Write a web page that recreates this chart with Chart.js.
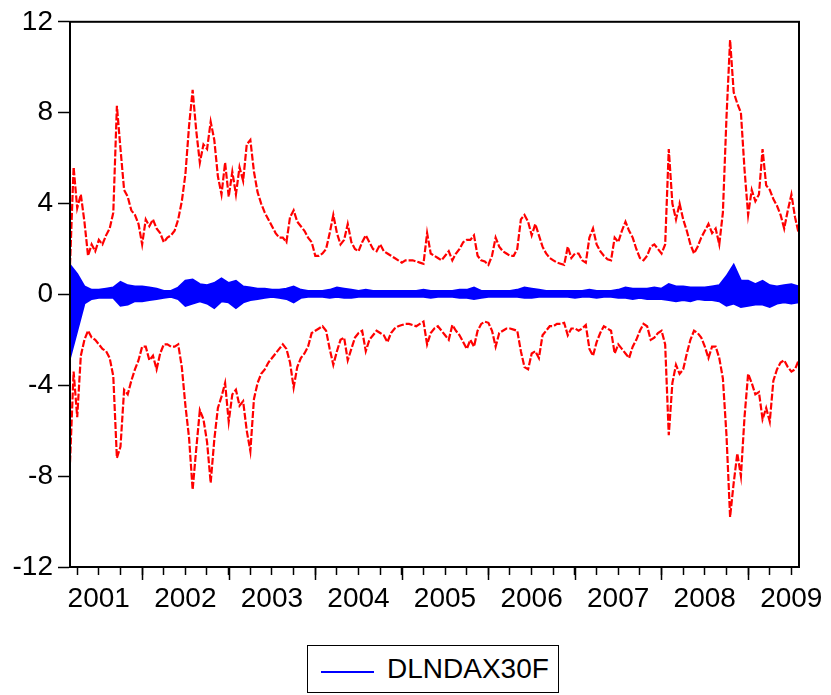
<!DOCTYPE html>
<html>
<head>
<meta charset="utf-8">
<script src="https://cdn.jsdelivr.net/npm/chart.js@4.4.0/dist/chart.umd.min.js"></script>
<style>
  body { margin: 0; background: #fff; }
  #wrap { position: relative; width: 831px; height: 695px; }
  #myChart { position: absolute; left: 0; top: 0; }
  #legend {
    position: absolute; left: 307px; top: 645px; width: 252px; height: 48px;
    box-sizing: border-box; border: 1px solid #000; background: #fff;
    font-family: 'Liberation Sans', Arial, sans-serif; font-size: 28px; color: #000;
  }
  #legend .swatch { position: absolute; left: 13px; top: 25px; width: 53px; height: 2px; background: #0000ff; }
  #legend .name { position: absolute; left: 79px; top: 7px; line-height: 32px; }
</style>
</head>
<body>
<div id="wrap">
  <canvas id="myChart" width="831" height="695"></canvas>
  <div id="legend"><div class="swatch"></div><div class="name">DLNDAX30F</div></div>
</div>
<script>
// DATA
// first observation ~ early March 2001, bands read every half month
const firstObs = 2001.168;
const lastObs = 2009.589;

// forecast +2 S.E. (red dashed, upper)
const upperBand = [
  1.3, 5.6, 3.8, 4.4, 3.2, 1.7, 2.2, 1.9, 2.4, 2.2,
  2.6, 2.9, 3.6, 8.3, 6.4, 4.6, 4.3, 3.7, 3.5, 3.1,
  2.2, 3.3, 3.0, 3.3, 2.9, 2.7, 2.3, 2.5, 2.6, 2.8,
  3.3, 4.1, 5.3, 7.4, 9.0, 7.2, 5.8, 6.6, 6.4, 7.6,
  6.8, 5.2, 4.4, 5.8, 4.3, 5.4, 4.4, 5.6, 5.0, 6.6,
  6.8, 5.4, 4.5, 4.0, 3.6, 3.3, 3.0, 2.7, 2.5, 2.5,
  2.3, 3.4, 3.7, 3.2, 3.0, 2.8, 2.5, 2.3, 1.7, 1.7,
  1.8, 2.0, 2.7, 3.5, 2.7, 2.2, 2.4, 3.1, 2.3, 2.0,
  1.9, 2.3, 2.6, 2.3, 2.0, 1.9, 2.2, 1.9, 1.8, 1.7,
  1.6, 1.5, 1.4, 1.5, 1.5, 1.5, 1.45, 1.4, 1.35, 2.7,
  1.8, 1.7, 1.6, 1.5, 1.7, 1.9, 1.5, 1.8, 2.0, 2.3,
  2.4, 2.4, 2.6, 1.7, 1.5, 1.45, 1.3, 1.7, 2.5, 2.1,
  1.9, 1.8, 1.7, 1.7, 2.0, 3.3, 3.5, 3.2, 2.6, 3.1,
  2.6, 2.1, 1.8, 1.6, 1.5, 1.4, 1.35, 1.3, 2.1, 1.6,
  1.8, 1.8, 1.5, 1.4, 2.5, 2.9, 2.2, 1.9, 1.7, 1.55,
  1.5, 2.5, 2.3, 2.8, 3.2, 2.8, 2.5, 2.0, 1.6, 1.5,
  1.7, 2.1, 2.2, 2.0, 1.8, 2.2, 6.4, 4.0, 3.3, 4.0,
  3.3, 2.8, 2.2, 1.8, 2.1, 2.5, 2.8, 3.1, 2.7, 2.9,
  2.2, 3.6, 7.8, 11.2, 8.9, 8.4, 8.0, 5.5, 3.5, 4.6,
  4.1, 4.4, 6.4, 4.8, 4.6, 4.2, 3.9, 3.5, 2.9, 3.7,
  4.4, 3.4, 2.7
];

// forecast -2 S.E. (red dashed, lower)
const lowerBand = [
  -7.4, -3.4, -5.4, -2.7, -2.0, -1.6, -1.9, -2.0, -2.2, -2.4,
  -2.5, -2.8, -3.6, -7.2, -6.7, -4.2, -4.4, -3.8, -3.3, -2.9,
  -2.3, -2.3, -2.9, -2.7, -3.3, -2.6, -2.2, -2.2, -2.3, -2.3,
  -2.2, -3.2, -4.9, -6.3, -8.6, -6.8, -5.1, -5.5, -6.5, -8.3,
  -6.4, -5.0, -4.5, -3.9, -5.6, -4.4, -4.2, -4.9, -4.7, -6.0,
  -6.9, -4.6, -3.9, -3.5, -3.3, -3.0, -2.8, -2.6, -2.4, -2.2,
  -2.4, -3.0, -4.1, -3.2, -2.8, -2.6, -2.3, -1.7, -1.6, -1.5,
  -1.4, -1.6, -2.4, -3.1, -2.5, -2.0, -1.9, -2.9, -2.4, -1.9,
  -1.7, -1.6, -2.5, -2.0, -1.8, -1.6, -1.7, -1.8, -2.1, -1.7,
  -1.5, -1.4, -1.35, -1.3, -1.3, -1.35, -1.4, -1.3, -1.2, -2.2,
  -1.7, -1.5, -1.4, -1.6, -1.8, -2.0, -1.35, -1.6, -1.8, -2.1,
  -2.4, -2.0, -2.3, -1.6, -1.3, -1.2, -1.25, -1.6, -2.3, -1.7,
  -1.6, -1.5, -1.5, -1.55, -1.6, -2.5, -3.2, -3.3, -2.6, -2.5,
  -2.8, -1.8, -1.6, -1.4, -1.4, -1.3, -1.3, -1.25, -1.8, -1.5,
  -1.5, -1.6, -1.5, -1.35, -2.4, -2.7, -2.1, -1.7, -1.4, -1.5,
  -1.6, -2.6, -2.2, -2.4, -2.6, -2.8, -2.3, -2.0, -1.6, -1.3,
  -1.4, -2.0, -1.9, -1.7, -1.6, -2.2, -6.2, -3.9, -3.1, -3.5,
  -3.3, -2.6, -2.0, -1.6, -1.7, -1.9, -2.3, -2.8, -2.3, -2.3,
  -2.8, -3.7, -6.2, -9.8, -8.3, -7.0, -8.0, -5.4, -3.5, -3.9,
  -4.4, -4.3, -5.5, -5.0, -5.6, -3.8, -3.3, -3.0, -2.9, -3.2,
  -3.4, -3.3, -2.9
];

// DLNDAX30F, monthly high / low of the daily forecast
const forecastHigh = [
  1.3, 0.9, 0.35, 0.2, 0.2, 0.25, 0.3, 0.55, 0.4, 0.35,
  0.35, 0.3, 0.25, 0.15, 0.15, 0.3, 0.6, 0.65, 0.45, 0.4,
  0.5, 0.7, 0.5, 0.6, 0.35, 0.3, 0.25, 0.25, 0.2, 0.2,
  0.25, 0.35, 0.2, 0.15, 0.15, 0.15, 0.2, 0.3, 0.25, 0.2,
  0.15, 0.2, 0.15, 0.15, 0.15, 0.15, 0.15, 0.15, 0.15, 0.2,
  0.15, 0.15, 0.15, 0.15, 0.2, 0.2, 0.3, 0.15, 0.15, 0.15,
  0.15, 0.15, 0.2, 0.3, 0.25, 0.2, 0.15, 0.15, 0.15, 0.15,
  0.15, 0.15, 0.2, 0.15, 0.15, 0.15, 0.2, 0.3, 0.25, 0.25,
  0.25, 0.3, 0.25, 0.45, 0.35, 0.35, 0.3, 0.3, 0.3, 0.35,
  0.4, 0.8, 1.3, 0.6, 0.6, 0.45, 0.6, 0.4, 0.35, 0.4,
  0.45, 0.35
];
const forecastLow = [
  -2.8, -1.6, -0.4, -0.2, -0.15, -0.15, -0.15, -0.5, -0.45, -0.3,
  -0.3, -0.25, -0.2, -0.15, -0.1, -0.2, -0.5, -0.4, -0.3, -0.4,
  -0.6, -0.3, -0.35, -0.6, -0.35, -0.25, -0.2, -0.15, -0.1, -0.15,
  -0.2, -0.35, -0.15, -0.1, -0.1, -0.1, -0.15, -0.1, -0.15, -0.15,
  -0.1, -0.1, -0.1, -0.1, -0.1, -0.1, -0.1, -0.1, -0.1, -0.1,
  -0.15, -0.1, -0.1, -0.1, -0.15, -0.15, -0.2, -0.15, -0.1, -0.1,
  -0.1, -0.1, -0.1, -0.15, -0.15, -0.1, -0.1, -0.1, -0.1, -0.1,
  -0.15, -0.1, -0.1, -0.15, -0.1, -0.1, -0.15, -0.15, -0.2, -0.15,
  -0.2, -0.2, -0.2, -0.25, -0.3, -0.25, -0.3, -0.2, -0.25, -0.25,
  -0.3, -0.5, -0.4, -0.55, -0.5, -0.45, -0.45, -0.55, -0.4, -0.35,
  -0.4, -0.35
];

const yearLabels = ['2001', '2002', '2003', '2004', '2005', '2006', '2007', '2008', '2009'];
const yTicks = [-12, -8, -4, 0, 4, 8, 12];

// BUILD SERIES
function toPoints(values, step) {
  return values.map((v, i) => ({ x: firstObs + i * step, y: v }));
}

const FONT = "'Liberation Sans', Arial, sans-serif";

// quarter ticks, year labels sit in the middle of each year
let quarterTicks = [];
yearLabels.forEach(y => {
  [0, 0.25, 0.5, 0.75].forEach(q => {
    let v = Number(y) + q;
    if (v > firstObs && v < lastObs) quarterTicks.push(v);
  });
});

const frame = {
  id: 'frame',
  afterDraw(chart) {
    const ctx = chart.ctx;
    const a = chart.chartArea;
    const xs = chart.scales.x;
    ctx.save();
    ctx.strokeStyle = '#000';
    ctx.lineWidth = 2;
    ctx.strokeRect(a.left, a.top, a.right - a.left, a.bottom - a.top);
    ctx.lineWidth = 1.5;
    yearLabels.forEach(y => {
      let v = Number(y);
      if (v > firstObs && v < lastObs) {
        let px = Math.round(xs.getPixelForValue(v)) + 0.5;
        ctx.beginPath();
        ctx.moveTo(px, a.bottom);
        ctx.lineTo(px, a.bottom + 13);
        ctx.stroke();
      }
    });
    ctx.restore();
  }
};

const config = {
  type: 'line',
  data: {
    datasets: [
      {
        label: 'DLNDAX30F',
        data: toPoints(forecastHigh, 1 / 12),
        borderColor: '#0000ff',
        borderWidth: 2,
        fill: false
      },
      {
        label: 'DLNDAX30F low',
        data: toPoints(forecastLow, 1 / 12),
        borderColor: '#0000ff',
        backgroundColor: '#0000ff',
        borderWidth: 2,
        fill: '-1'
      },
      {
        label: '+2 S.E.',
        data: toPoints(upperBand, 1 / 24),
        borderColor: '#ff0000',
        borderWidth: 2.2,
        borderDash: [7, 2],
        fill: false
      },
      {
        label: '-2 S.E.',
        data: toPoints(lowerBand, 1 / 24),
        borderColor: '#ff0000',
        borderWidth: 2.2,
        borderDash: [7, 2],
        fill: false
      }
    ]
  },
  options: {
    responsive: false,
    animation: false,
    devicePixelRatio: 1,
    layout: { padding: { left: 0, right: 32, top: 21, bottom: 0 } },
    elements: { point: { radius: 0 }, line: { tension: 0 } },
    plugins: { legend: { display: false }, tooltip: { enabled: false } },
    scales: {
      x: {
        type: 'linear',
        min: firstObs,
        max: lastObs,
        afterBuildTicks: scale => { scale.ticks = quarterTicks.map(v => ({ value: v })); },
        afterFit: scale => { scale.height = 128; },
        grid: { drawOnChartArea: false, tickLength: 8, tickColor: '#000', tickWidth: 1.5 },
        border: { display: true, color: '#000', width: 2 },
        ticks: {
          autoSkip: false,
          maxRotation: 0,
          padding: 7,
          color: '#000',
          font: { family: FONT, size: 28 },
          callback: v => {
            let y = Math.floor(v);
            return Math.abs(v - y - 0.5) < 1e-6 ? String(y) : '';
          }
        }
      },
      y: {
        min: -12,
        max: 12,
        afterBuildTicks: scale => { scale.ticks = yTicks.map(v => ({ value: v })); },
        afterFit: scale => { scale.width = 70; },
        grid: { drawOnChartArea: false, tickLength: 12, tickColor: '#000', tickWidth: 1.5 },
        border: { display: true, color: '#000', width: 2 },
        ticks: { padding: 5, color: '#000', font: { family: FONT, size: 28 } }
      }
    }
  },
  plugins: [frame]
};

const myChart = new Chart(document.getElementById('myChart'), config);
</script>
</body>
</html>
